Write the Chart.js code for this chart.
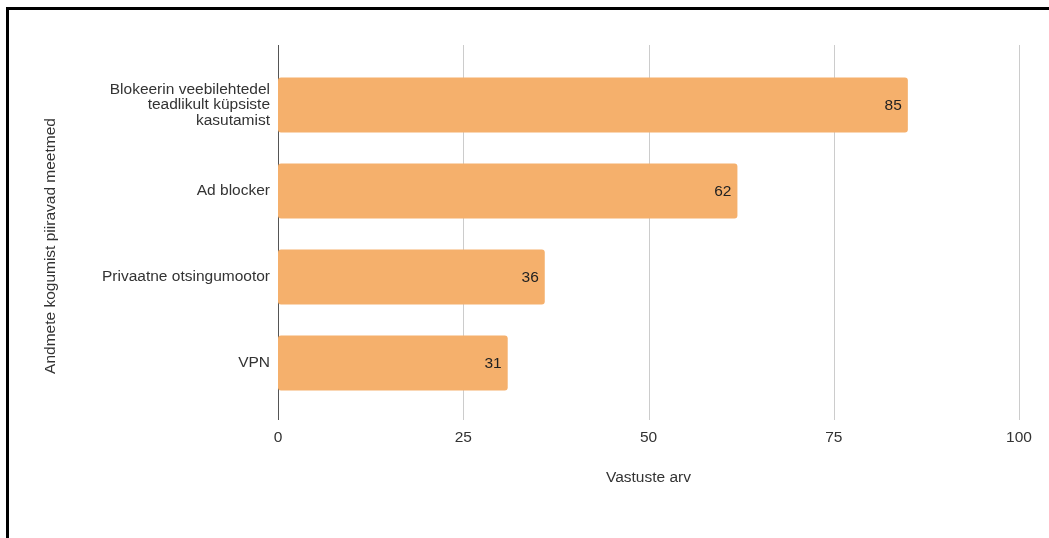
<!DOCTYPE html>
<html lang="et">
<head>
  <meta charset="UTF-8" />
  <title>Andmete kogumist piiravad meetmed</title>
  <script src="https://cdn.jsdelivr.net/npm/chart.js"></script>
  <style>
    body { margin: 0; background: #fff; }
    .wrap { position: relative; width: 1049px; height: 538px; }
    .frame {
      position: absolute; left: 6px; top: 7px; right: 0; bottom: 0;
      border-top: 3px solid #000; border-left: 3px solid #000;
      pointer-events: none;
    }
    canvas { position: absolute; left: 0; top: 0; }
  </style>
</head>
<body>
  <div class="wrap">
    <canvas id="chart" width="1049" height="538"></canvas>
    <div class="frame"></div>
  </div>

  <script>
    // data
    const categories = [
      ['Blokeerin veebilehtedel', 'teadlikult küpsiste', 'kasutamist'],
      'Ad blocker',
      'Privaatne otsingumootor',
      'VPN'
    ];
    const responses = [85, 62, 36, 31];
    const xTicks = [0, 25, 50, 75, 100];
    const xTitle = 'Vastuste arv';
    const yTitle = 'Andmete kogumist piiravad meetmed';

    const FONT = "Arial, 'Liberation Sans', sans-serif";
    const SIZE = 15.5;
    const TEXT = '#333';

    // gridlines run a bit past the bars, y title + bar values
    const extras = {
      id: 'extras',
      beforeDatasetsDraw(chart) {
        const {ctx, chartArea, scales: {x}} = chart;
        ctx.save();
        xTicks.forEach(v => {
          const px = Math.round(x.getPixelForValue(v)) + 0.5;
          ctx.strokeStyle = v === 0 ? '#555' : '#cccccc';
          ctx.lineWidth = 1;
          ctx.beginPath();
          ctx.moveTo(px, chartArea.top - 17);
          ctx.lineTo(px, chartArea.bottom + 14);
          ctx.stroke();
        });
        ctx.restore();
      },
      afterDatasetsDraw(chart) {
        const {ctx} = chart;
        ctx.save();
        ctx.font = SIZE + 'px ' + FONT;
        ctx.fillStyle = '#222';
        ctx.textAlign = 'right';
        ctx.textBaseline = 'middle';
        chart.getDatasetMeta(0).data.forEach((bar, i) => {
          ctx.fillText(responses[i], bar.x - 6, bar.y + 1);
        });
        ctx.translate(51, 246);
        ctx.rotate(-Math.PI / 2);
        ctx.textAlign = 'center';
        ctx.fillStyle = TEXT;
        ctx.fillText(yTitle, 0, 0);
        ctx.restore();
      }
    };

    new Chart(document.getElementById('chart'), {
      type: 'bar',
      data: {
        labels: categories,
        datasets: [{
          data: responses,
          backgroundColor: '#F5B06C',
          borderRadius: 3,
          borderSkipped: false,
          categoryPercentage: 1,
          barPercentage: 0.64
        }]
      },
      options: {
        indexAxis: 'y',
        responsive: false,
        animation: false,
        layout: {padding: {top: 62, right: 30, left: 0, bottom: 0}},
        plugins: {legend: {display: false}, tooltip: {enabled: false}},
        scales: {
          x: {
            min: 0, max: 100,
            afterBuildTicks: s => { s.ticks = xTicks.map(v => ({value: v})); },
            afterFit: s => { s.height = 132; s.paddingLeft = 0; s.paddingRight = 0; },
            grid: {display: false, drawTicks: false},
            border: {display: false},
            ticks: {color: TEXT, padding: 22, font: {size: SIZE, family: FONT}},
            title: {
              display: true, text: xTitle, color: TEXT,
              font: {size: SIZE, family: FONT},
              padding: {top: 0, bottom: 51}
            }
          },
          y: {
            afterFit: s => { s.width = 278; },
            grid: {display: false, drawTicks: false},
            border: {display: false},
            ticks: {color: TEXT, padding: 8, font: {size: SIZE, family: FONT, lineHeight: 1.0}}
          }
        }
      },
      plugins: [extras]
    });
  </script>
</body>
</html>
